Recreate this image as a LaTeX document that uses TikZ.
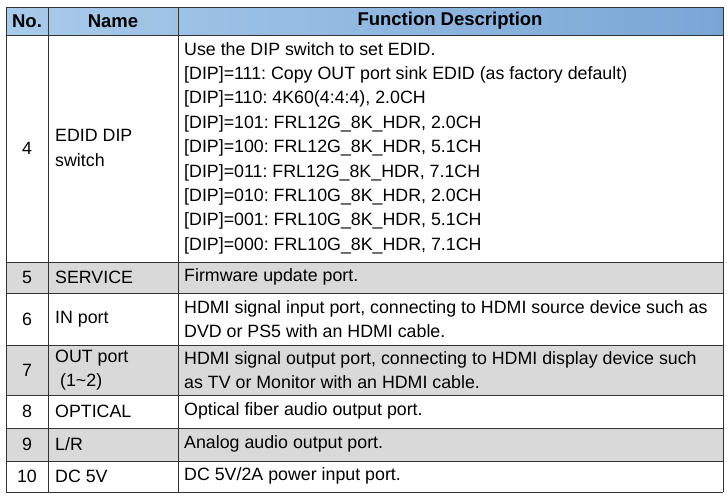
\documentclass[tikz,border=0pt]{standalone}
\usepackage{fontspec}
\setmainfont{Liberation Sans}
\usetikzlibrary{positioning}
\definecolor{headleft}{HTML}{A9CBEA}
\definecolor{headright}{HTML}{7AA6D6}
\definecolor{rowgrey}{HTML}{D9D9D9}
\definecolor{rulegrey}{HTML}{333333}
\newcommand{\dip}{{[}DIP{]}}
\frenchspacing
\begin{document}
\begin{tikzpicture}[x=1pt,y=-1pt,
  txt/.style={font=\fontsize{17.8}{24.4}\selectfont, inner sep=0pt, align=left, anchor=west},
  num/.style={font=\fontsize{17.8}{24.4}\selectfont, inner sep=0pt},
  head/.style={font=\fontsize{18.5}{20}\selectfont\bfseries, inner sep=0pt},
  rule/.style={draw=rulegrey, line width=0.9pt}]
\useasboundingbox (0,0) rectangle (727,498);
% backgrounds
\shade[left color=headleft, right color=headright] (6,7) rectangle (723,35);
\fill[rowgrey] (6,262) rectangle (723,293);
\fill[rowgrey] (6,345) rectangle (723,395);
\fill[rowgrey] (6,428) rectangle (723,461);
% grid
\foreach \y in {7,35,262,293,345,395,428,461,492}
  \draw[rule] (6,\y) -- (723,\y);
\foreach \x in {6,48,178,723}
  \draw[rule] (\x,7) -- (\x,492);
% header
\node[head] (hno) at (27,21) {No.};
\node[head] (hname) at (113,21) {Name};
\node[head] (hfunc) at (450,21) {Function Description};
% row 4
\node[num] (n4) at (27,148) {4};
\node[txt] (name4) at (55,148) {EDID DIP\\switch};
\node[txt] (desc4) at (184,148) {Use the DIP switch to set EDID.\\
\dip=111: Copy OUT port sink EDID (as factory default)\\
\dip=110: 4K60(4:4:4), 2.0CH\\
\dip=101: FRL12G\_8K\_HDR, 2.0CH\\
\dip=100: FRL12G\_8K\_HDR, 5.1CH\\
\dip=011: FRL12G\_8K\_HDR, 7.1CH\\
\dip=010: FRL10G\_8K\_HDR, 2.0CH\\
\dip=001: FRL10G\_8K\_HDR, 5.1CH\\
\dip=000: FRL10G\_8K\_HDR, 7.1CH};
% row 5
\node[num] (n5) at (27,277) {5};
\node[txt] (name5) at (55,277) {SERVICE};
\node[txt] (desc5) at (184,277) {Firmware update port.};
% row 6
\node[num] (n6) at (27,319) {6};
\node[txt] (name6) at (55,319) {IN port};
\node[txt] (desc6) at (184,319) {HDMI signal input port, connecting to HDMI source device such as\\DVD or PS5 with an HDMI cable.};
% row 7
\node[num] (n7) at (27,370) {7};
\node[txt] (name7) at (55,370) {OUT port\\\ (1\textasciitilde 2)};
\node[txt] (desc7) at (184,370) {HDMI signal output port, connecting to HDMI display device such\\as TV or Monitor with an HDMI cable.};
% rows 8-10
\node[num] (n8) at (27,411) {8};
\node[txt] (name8) at (55,411) {OPTICAL};
\node[txt] (desc8) at (184,411) {Optical fiber audio output port.};
\node[num] (n9) at (27,444) {9};
\node[txt] (name9) at (55,444) {L/R};
\node[txt] (desc9) at (184,444) {Analog audio output port.};
\node[num] (n10) at (27,476) {10};
\node[txt] (name10) at (55,476) {DC 5V};
\node[txt] (desc10) at (184,476) {DC 5V/2A power input port.};
\end{tikzpicture}
\end{document}
